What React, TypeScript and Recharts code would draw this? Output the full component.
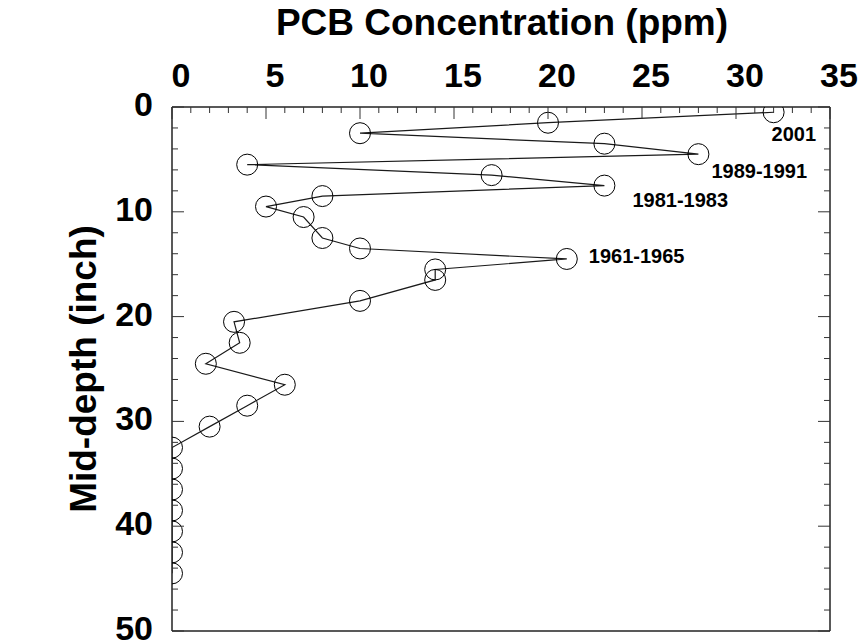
import React from "react";
import { ScatterChart, Scatter, XAxis, YAxis } from "recharts";

// core sample: mid-depth (inch) vs PCB concentration (ppm)
const depths = [0.5, 1.5, 2.5, 3.5, 4.5, 5.5, 6.5, 7.5, 8.5, 9.5, 10.5, 12.5, 13.5, 14.5, 15.5, 16.5, 18.5, 20.5, 22.5, 24.5, 26.5, 28.5, 30.5, 32.5, 34.5, 36.5, 38.5, 40.5, 42.5, 44.5];
const concs = [32, 20, 10, 23, 28, 4, 17, 23, 8, 5, 7, 8, 10, 21, 14, 14, 10, 3.3, 3.6, 1.8, 6, 4, 2, 0, 0, 0, 0, 0, 0, 0];

const noteTexts = ["2001", "1989-1991", "1981-1983", "1961-1965"];
const noteDepths = [0.5, 4.5, 7.5, 14.5];

const xMajor = [0, 5, 10, 15, 20, 25, 30, 35];
const yMajor = [0, 10, 20, 30, 40, 50];
const xMinor = Array.from({ length: 36 }, (_, i) => i);
const yMinor = Array.from({ length: 26 }, (_, i) => i * 2);

// label placement relative to its point (px)
const noteOffset: Record<string, [number, number]> = {
  "2001": [-2, 29],
  "1989-1991": [13, 24],
  "1981-1983": [28, 21],
  "1961-1965": [22, 4],
};

const data = depths.map((d, i) => {
  const k = noteDepths.indexOf(d);
  return { conc: concs[i], depth: d, note: k >= 0 ? noteTexts[k] : "" };
});

const FONT = "'Liberation Sans', Arial, Helvetica, sans-serif";
const TICK = "#333";
const MAJ = 12;
const MIN = 6;

const TopTick = ({ x, y, payload }: any) => {
  const major = xMajor.includes(payload.value);
  return (
    <g>
      <line x1={x} y1={y} x2={x} y2={y + (major ? MAJ : MIN)} stroke={TICK} strokeWidth={1} />
      {major && (
        <text x={x + 9} y={y - 20} textAnchor="middle" fontFamily={FONT} fontWeight="bold" fontSize={34} fill="#000">
          {payload.value}
        </text>
      )}
    </g>
  );
};

const BottomTick = ({ x, y, payload }: any) => {
  const major = xMajor.includes(payload.value);
  return <line x1={x} y1={y} x2={x} y2={y - (major ? MAJ : MIN)} stroke={TICK} strokeWidth={1} />;
};

const LeftTick = ({ x, y, payload }: any) => {
  const major = yMajor.includes(payload.value);
  return (
    <g>
      <line x1={x} y1={y} x2={x + (major ? MAJ : MIN)} y2={y} stroke={TICK} strokeWidth={1} />
      {major && (
        <text x={x - 19} y={y + 9} textAnchor="end" fontFamily={FONT} fontWeight="bold" fontSize={34} fill="#000">
          {payload.value}
        </text>
      )}
    </g>
  );
};

const RightTick = ({ x, y, payload }: any) => {
  const major = yMajor.includes(payload.value);
  return <line x1={x} y1={y} x2={x - (major ? MAJ : MIN)} y2={y} stroke={TICK} strokeWidth={1} />;
};

const Title = ({ viewBox }: any) => (
  <text x={viewBox.x + viewBox.width / 2 + 1} y={35} textAnchor="middle" fontFamily={FONT} fontWeight="bold" fontSize={37} fill="#000">
    PCB Concentration (ppm)
  </text>
);

const DepthLabel = ({ viewBox }: any) => {
  const cx = 96;
  const cy = viewBox.y + viewBox.height / 2;
  return (
    <text x={cx} y={cy} transform={`rotate(-90, ${cx}, ${cy})`} textAnchor="middle" fontFamily={FONT} fontWeight="bold" fontSize={37} fill="#000">
      Mid-depth (inch)
    </text>
  );
};

const Point = ({ cx, cy, payload }: any) => {
  const off = payload.note ? noteOffset[payload.note] : null;
  return (
    <g>
      <circle cx={cx} cy={cy} r={10.5} fill="none" stroke="#000" strokeWidth={1} />
      {off && (
        <text x={cx + off[0]} y={cy + off[1]} fontFamily={FONT} fontWeight="bold" fontSize={20} fill="#000">
          {payload.note}
        </text>
      )}
    </g>
  );
};

const axisLine = { stroke: "#222", strokeWidth: 1.5 };

export default function App() {
  return (
    <div style={{ position: "absolute", left: 0, top: 0, background: "#fff" }}>
      <ScatterChart width={864} height={644} margin={{ top: 0, right: 0, bottom: 0, left: 0 }}>
        <XAxis
          xAxisId="top"
          orientation="top"
          type="number"
          dataKey="conc"
          domain={[0, 35]}
          ticks={xMinor}
          interval={0}
          allowDataOverflow
          height={107}
          tickSize={0}
          tickMargin={0}
          tickLine={false}
          axisLine={axisLine}
          tick={<TopTick />}
          label={{ content: Title }}
        />
        <XAxis
          xAxisId="bottom"
          orientation="bottom"
          type="number"
          domain={[0, 35]}
          ticks={xMinor}
          interval={0}
          allowDataOverflow
          height={13}
          tickSize={0}
          tickMargin={0}
          tickLine={false}
          axisLine={axisLine}
          tick={<BottomTick />}
        />
        <YAxis
          yAxisId="left"
          orientation="left"
          type="number"
          dataKey="depth"
          domain={[0, 50]}
          reversed
          ticks={yMinor}
          interval={0}
          allowDataOverflow
          width={172}
          tickSize={0}
          tickMargin={0}
          tickLine={false}
          axisLine={axisLine}
          tick={<LeftTick />}
          label={{ content: DepthLabel }}
        />
        <YAxis
          yAxisId="right"
          orientation="right"
          type="number"
          domain={[0, 50]}
          reversed
          ticks={yMinor}
          interval={0}
          allowDataOverflow
          width={34}
          tickSize={0}
          tickMargin={0}
          tickLine={false}
          axisLine={axisLine}
          tick={<RightTick />}
        />
        <Scatter
          xAxisId="top"
          yAxisId="left"
          data={data}
          line={{ stroke: "#1a1a1a", strokeWidth: 1.2 }}
          lineType="joint"
          shape={<Point />}
          isAnimationActive={false}
        />
      </ScatterChart>
    </div>
  );
}
